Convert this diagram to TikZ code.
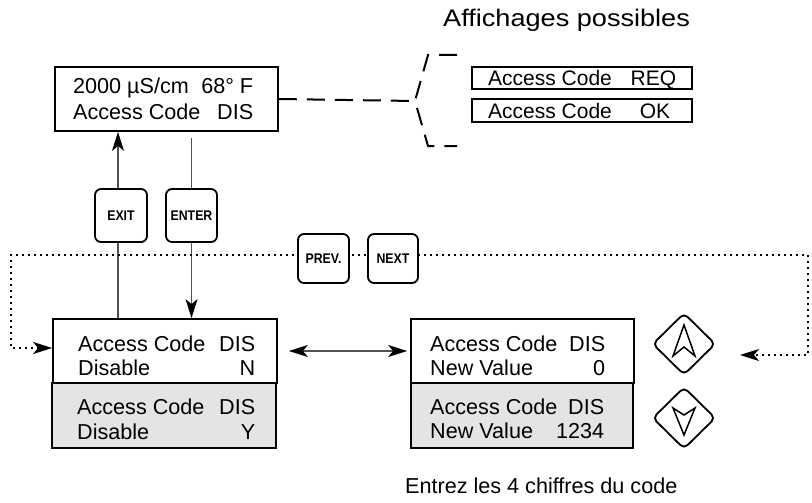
\documentclass[tikz,border=0pt]{standalone}
\usepackage{fontspec}
\usepackage{graphicx}
\setmainfont{Liberation Sans}
\usetikzlibrary{arrows.meta,shapes.geometric,backgrounds}
\definecolor{lcdgray}{HTML}{E4E4E4}
\definecolor{wire}{HTML}{505050}
\newcommand\twolines[5]{\begin{tabular}[t]{@{}l@{}}\makebox[#1][l]{#2\hfill #3}\\\makebox[#1][l]{#4\hfill #5}\end{tabular}}
\newcommand\keylabel[1]{\scalebox{0.88}[1]{#1}}
\begin{document}
\begin{tikzpicture}[x=1pt,y=-1pt,
  lcd/.style={draw=black, line width=1.8pt, inner sep=0pt, fill=white, rectangle},
  keybox/.style={draw=black, line width=1.8pt, rounded corners=6pt, fill=white, inner sep=0pt,
     font=\fontsize{14}{15}\selectfont\bfseries},
  padkey/.style={draw=black, line width=1.8pt, diamond, inner sep=0pt, fill=white,
     minimum width=63pt, minimum height=62pt, rounded corners=5pt},
  glyph/.style={draw=black, line width=1.5pt, line join=miter},
  txt/.style={anchor=base west, inner sep=0pt, font=\fontsize{21.6}{24}\selectfont},
  txtb/.style={anchor=base west, inner sep=0pt, font=\fontsize{21.6}{25}\selectfont},
  wireline/.style={draw=wire, line width=1.2pt},
  tipk/.tip={Stealth[length=19pt,width=12pt,inset=5pt,color=black]},
  dotline/.style={draw=black, line width=1.8pt, dash pattern=on 1.8pt off 4.2pt},
  dashline/.style={draw=black, line width=2pt, dash pattern=on 18pt off 10pt}]
\useasboundingbox (0,0) rectangle (812,503);

% LCD boxes
\node[lcd, minimum width=223pt, minimum height=64pt] (top) at (166.5,99) {};
\node[lcd, minimum width=224pt, minimum height=64pt] (lw) at (165,351) {};
\node[lcd, fill=lcdgray, minimum width=224pt, minimum height=65pt] (lg) at (164,415.5) {};
\node[lcd, minimum width=223pt, minimum height=64pt] (rw) at (522.5,351) {};
\node[lcd, fill=lcdgray, minimum width=222pt, minimum height=65pt] (rg) at (522,415.5) {};
\node[lcd, line width=1.5pt, minimum width=220pt, minimum height=22pt] (sreq) at (582,78) {};
\node[lcd, line width=1.5pt, minimum width=220pt, minimum height=23pt] (sok) at (582,110.5) {};

% texts
\node[txtb] (toptxt) at (73,94) {\twolines{180pt}{2000 µS/cm}{68° F}{Access Code}{DIS}};
\node[txt] (lwtxt) at (78,351) {\twolines{177pt}{Access Code}{DIS}{Disable}{N}};
\node[txtb] (lgtxt) at (77,414) {\twolines{178pt}{Access Code}{DIS}{Disable}{Y}};
\node[txt] (rwtxt) at (430,351) {\twolines{175pt}{Access Code}{DIS}{New Value}{0}};
\node[txt] (rgtxt) at (430,414) {\twolines{174pt}{Access Code}{DIS}{New Value}{1234}};
\node[txt, font=\fontsize{21}{24}\selectfont] (reqtxt) at (488,86) {\makebox[188pt][l]{Access Code\hfill REQ}};
\node[txt, font=\fontsize{21}{24}\selectfont] (oktxt) at (488,118) {\makebox[182pt][l]{Access Code\hfill OK}};
\node[anchor=base west, inner sep=0pt, font=\fontsize{24}{26}\selectfont] (title) at (443,27)
  {\scalebox{1.13}[1]{Affichages possibles}};
\node[txt] (note) at (405,493) {Entrez les 4 chiffres du code};

% keys
\node[keybox, minimum width=52pt, minimum height=53pt] (exit) at (121,215.5) {\keylabel{EXIT}};
\node[keybox, minimum width=51pt, minimum height=53pt] (enter) at (191.5,215.5) {\keylabel{ENTER}};
\node[keybox, minimum width=51pt, minimum height=49pt] (prev) at (323.5,258.5) {\keylabel{PREV.}};
\node[keybox, minimum width=50pt, minimum height=49pt] (next) at (393,258.5) {\keylabel{NEXT}};

\node[padkey] (up) at (684,344) {};
\node[padkey] (down) at (684,418) {};
\draw[glyph] ([shift={(0,-19)}]up.center) -- ([shift={(-11,12)}]up.center)
  -- ([shift={(0,3)}]up.center) -- ([shift={(11,12)}]up.center) -- cycle;
\draw[glyph] ([shift={(0,17)}]down.center) -- ([shift={(-11,-10)}]down.center)
  -- ([shift={(0,-3)}]down.center) -- ([shift={(11,-10)}]down.center) -- cycle;

\coordinate (rin) at (740,355);
\coordinate (br) at (415,101);

\begin{scope}[on background layer]
  \draw[wireline, -tipk] ([xshift=-3pt]lw.north -| exit.center) -- ([xshift=-3pt]top.south -| exit.center);
  \draw[wireline, -tipk] ([yshift=-6pt]top.south -| enter.center) -- (lw.north -| enter.center);
  \draw[wireline, tipk-tipk] ([xshift=11pt]lw.east) -- ([xshift=-3pt]rw.west);
  \draw[dotline, tipk-tipk] ([yshift=3pt]lw.west) -| (11,255) -| (808,355) -- (rin);
  \draw[dashline] (top.east) -- (br);
  \draw[dashline] (457,55) -- (428,55) -- (br) -- (428,146) -- (457,146);
\end{scope}
\end{tikzpicture}
\end{document}
